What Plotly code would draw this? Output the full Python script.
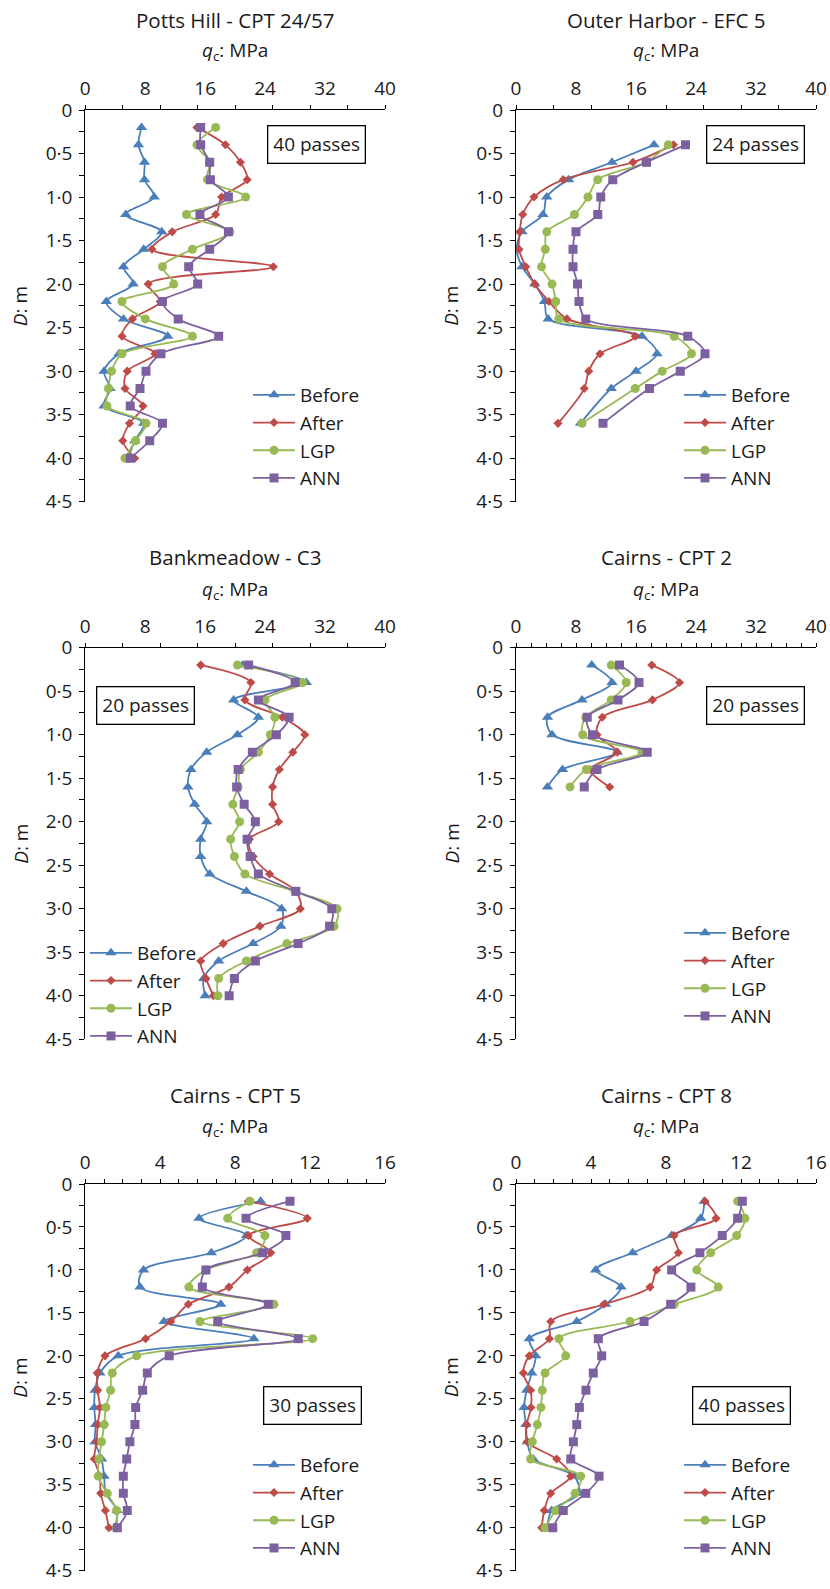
import plotly.graph_objects as go

# ---------------- data ----------------
depth_20 = [0.2, 0.4, 0.6, 0.8, 1.0, 1.2, 1.4, 1.6, 1.8, 2.0,
            2.2, 2.4, 2.6, 2.8, 3.0, 3.2, 3.4, 3.6, 3.8, 4.0]
depth_oh = [0.4, 0.6, 0.8, 1.0, 1.2, 1.4, 1.6, 1.8, 2.0, 2.2,
            2.4, 2.6, 2.8, 3.0, 3.2, 3.6]
depth_c2 = [0.2, 0.4, 0.6, 0.8, 1.0, 1.2, 1.4, 1.6]

series_names = ["Before", "After", "LGP", "ANN"]

# Potts Hill - CPT 24/57
ph_before = [7.5, 7.1, 7.9, 7.9, 9.2, 5.4, 10.2, 7.8, 5.1, 6.4, 2.8, 5.1, 11.0, 4.5, 2.5, 3.3, 2.5, 7.8, 6.6, 5.7]
ph_after = [14.9, 18.7, 20.7, 21.6, 18.2, 17.4, 11.6, 8.9, 25.1, 8.4, 10.0, 6.3, 4.9, 9.3, 5.6, 5.3, 7.7, 5.9, 5.0, 6.6]
ph_lgp = [17.4, 14.9, 16.6, 16.3, 21.4, 13.5, 19.3, 14.3, 10.3, 11.8, 4.9, 8.0, 14.3, 4.9, 3.5, 3.1, 2.9, 8.1, 6.7, 5.3]
ph_ann = [15.4, 15.4, 16.6, 16.7, 19.1, 15.3, 19.1, 16.6, 13.8, 15.0, 10.3, 12.4, 17.8, 10.1, 8.1, 7.3, 6.0, 10.3, 8.6, 6.0]

# Outer Harbor - EFC 5
oh_before = [18.4, 12.8, 7.0, 4.1, 3.6, 0.8, 0.1, 0.8, 2.5, 3.8, 4.3, 16.8, 18.8, 16.0, 12.7, 8.6]
oh_after = [21.0, 15.6, 6.3, 2.4, 0.9, 0.5, 0.4, 1.3, 2.5, 4.4, 6.8, 15.9, 11.2, 9.7, 9.1, 5.6]
oh_lgp = [20.3, 17.3, 10.9, 9.6, 7.8, 4.1, 3.9, 3.4, 4.8, 5.3, 5.7, 21.1, 23.4, 19.5, 15.9, 8.8]
oh_ann = [22.6, 17.4, 12.9, 11.3, 10.9, 8.0, 7.6, 7.6, 8.2, 8.4, 9.3, 22.9, 25.2, 21.9, 17.8, 11.6]

# Bankmeadow - C3
bm_before = [21.0, 29.5, 19.8, 23.1, 20.3, 16.2, 14.1, 13.7, 14.6, 16.2, 15.4, 15.4, 16.6, 21.5, 26.2, 26.1, 22.4, 17.8, 15.8, 16.0]
bm_after = [15.4, 22.1, 21.3, 26.3, 29.3, 27.7, 25.9, 25.0, 25.0, 25.8, 21.9, 22.4, 24.6, 28.1, 28.7, 23.3, 18.4, 15.4, 16.1, 17.1]
bm_lgp = [20.3, 29.0, 24.0, 25.3, 24.7, 23.1, 20.7, 20.4, 19.7, 20.6, 19.4, 19.9, 21.3, 28.0, 33.6, 33.2, 26.9, 21.5, 17.8, 17.7]
bm_ann = [21.8, 28.0, 23.1, 27.2, 25.5, 22.3, 20.4, 20.2, 21.2, 22.7, 21.6, 22.0, 23.1, 28.1, 32.9, 32.6, 28.4, 22.7, 19.9, 19.2]

# Cairns - CPT 2
c2_before = [10.1, 12.8, 8.8, 4.2, 4.8, 13.5, 6.2, 4.2]
c2_after = [18.1, 21.8, 18.2, 11.5, 10.8, 13.5, 9.9, 12.5]
c2_lgp = [12.7, 14.7, 12.7, 9.3, 8.9, 16.8, 9.4, 7.2]
c2_ann = [13.8, 16.4, 13.6, 9.5, 10.2, 17.5, 10.8, 9.1]

# Cairns - CPT 5
c5_before = [9.36, 6.07, 8.61, 6.73, 3.11, 2.92, 7.23, 4.2, 9.0, 1.76, 0.78, 0.52, 0.48, 0.55, 0.52, 0.87, 1.0, 1.1, 1.7, 1.58]
c5_after = [8.7, 11.85, 8.7, 9.9, 8.65, 7.67, 5.5, 4.57, 3.22, 1.05, 0.64, 0.66, 0.78, 0.66, 0.6, 0.48, 0.78, 0.82, 1.07, 1.26]
c5_lgp = [8.79, 7.6, 9.59, 9.15, 6.44, 5.53, 10.07, 6.12, 12.14, 2.74, 1.44, 1.35, 1.1, 1.01, 0.87, 0.73, 0.69, 1.17, 1.67, 1.67]
c5_ann = [10.93, 8.58, 10.71, 9.47, 6.44, 6.25, 9.77, 7.07, 11.37, 4.48, 3.31, 3.06, 2.69, 2.65, 2.38, 2.21, 2.03, 2.03, 2.24, 1.71]

# Cairns - CPT 8
c8_before = [10.04, 9.85, 8.3, 6.22, 4.25, 5.6, 4.78, 3.24, 0.71, 1.05, 0.84, 0.57, 0.43, 0.53, 0.6, 0.92, 3.1, 3.36, 1.9, 1.67]
c8_after = [10.08, 10.67, 8.43, 8.66, 7.5, 7.15, 4.69, 1.85, 1.78, 0.71, 0.39, 0.78, 0.8, 0.57, 0.6, 2.17, 2.92, 1.85, 1.51, 1.37]
c8_lgp = [11.82, 12.21, 11.77, 10.38, 9.64, 10.79, 8.44, 6.08, 2.29, 2.65, 1.55, 1.4, 1.33, 1.14, 0.87, 0.78, 3.45, 3.15, 2.12, 1.55]
c8_ann = [12.07, 11.82, 11.0, 9.81, 8.3, 9.33, 8.25, 6.83, 4.39, 4.57, 4.12, 3.73, 3.38, 3.24, 3.06, 2.92, 4.43, 3.72, 2.52, 1.96]

titles = ["Potts Hill - CPT 24/57", "Outer Harbor - EFC 5", "Bankmeadow - C3",
          "Cairns - CPT 2", "Cairns - CPT 5", "Cairns - CPT 8"]
pass_labels = ["40 passes", "24 passes", "20 passes", "20 passes", "30 passes", "40 passes"]

x_tick_wide = [0, 8, 16, 24, 32, 40]
x_tick_narrow = [0, 4, 8, 12, 16]
y_tick_vals = [0, 0.5, 1.0, 1.5, 2.0, 2.5, 3.0, 3.5, 4.0, 4.5]
y_tick_text = ["0", "0·5", "1·0", "1·5", "2·0", "2·5", "3·0", "3·5", "4·0", "4·5"]

# ---------------- style / layout ----------------
W, H = 830, 1589
FONT = "Open Sans"
FS = 19
FS_TITLE = 20.5
colors = ["#4A7EBB", "#BE4B48", "#98B954", "#7D60A0"]
symbols = ["triangle-up", "diamond", "circle", "square"]
msizes = [10, 7, 9, 9]

panels = [
    dict(depth=depth_20, data=[ph_before, ph_after, ph_lgp, ph_ann], xmax=40, xt=x_tick_wide, minor=5,
         col=0, row=0, box=(30.8, 0.40), leg=(248, 376)),
    dict(depth=depth_oh, data=[oh_before, oh_after, oh_lgp, oh_ann], xmax=40, xt=x_tick_wide, minor=5,
         col=1, row=0, box=(31.9, 0.40), leg=(679, 376)),
    dict(depth=depth_20, data=[bm_before, bm_after, bm_lgp, bm_ann], xmax=40, xt=x_tick_wide, minor=5,
         col=0, row=1, box=(7.97, 0.66), leg=(85, 934)),
    dict(depth=depth_c2, data=[c2_before, c2_after, c2_lgp, c2_ann], xmax=40, xt=x_tick_wide, minor=2,
         col=1, row=1, box=(31.9, 0.66), leg=(679, 914)),
    dict(depth=depth_20, data=[c5_before, c5_after, c5_lgp, c5_ann], xmax=16, xt=x_tick_narrow, minor=1,
         col=0, row=2, box=(12.13, 2.58), leg=(248, 1446)),
    dict(depth=depth_20, data=[c8_before, c8_after, c8_lgp, c8_ann], xmax=16, xt=x_tick_narrow, minor=1,
         col=1, row=2, box=(12.0, 2.58), leg=(679, 1446)),
]

col_px = [(85.3, 385.0), (516.0, 816.0)]
row_px = [(110.0, 501.7), (647.7, 1039.3), (1184.0, 1570.7)]
title_px = [20, 557, 1095]
qc_px = [51, 590, 1127]

fig = go.Figure()
layout = dict(
    width=W, height=H, margin=dict(l=0, r=0, t=0, b=0, autoexpand=False),
    paper_bgcolor="white", plot_bgcolor="white",
    font=dict(family=FONT, size=FS, color="#1a1a1a"),
    annotations=[], showlegend=True,
)

for i, p in enumerate(panels):
    n = i + 1
    xa = "x" if n == 1 else f"x{n}"
    ya = "y" if n == 1 else f"y{n}"
    lg = "legend" if n == 1 else f"legend{n}"
    for k, name in enumerate(series_names):
        fig.add_trace(go.Scatter(
            x=p["data"][k], y=p["depth"], xaxis=xa, yaxis=ya,
            mode="lines+markers", name=name, legend=lg, legendgroup=f"{n}{name}",
            line=dict(color=colors[k], width=1.8, shape="spline", smoothing=0.9),
            marker=dict(symbol=symbols[k], size=msizes[k], color=colors[k]),
        ))
    x0, x1 = col_px[p["col"]]
    ytop, ybot = row_px[p["row"]]
    xd = [x0 / W, x1 / W]
    yd = [1 - ybot / H, 1 - ytop / H]
    minor_vals = [v * p["minor"] for v in range(int(p["xmax"] / p["minor"]) + 1)]
    layout[f"xaxis{n}"] = dict(
        domain=xd, anchor=ya, side="top", range=[0, p["xmax"]],
        showline=True, linecolor="black", linewidth=1.3, mirror=False,
        tickmode="array", tickvals=p["xt"], ticktext=[str(v) for v in p["xt"]],
        ticks="", ticklabelstandoff=6,
        minor=dict(tickmode="array", tickvals=minor_vals, ticks="outside", ticklen=4,
                   tickcolor="black", tickwidth=1.3, showgrid=False),
        showgrid=False, zeroline=False, fixedrange=True, automargin=False,
        tickfont=dict(family=FONT, size=FS, color="#1a1a1a"),
    )
    layout[f"yaxis{n}"] = dict(
        domain=yd, anchor=xa, range=[4.5, 0],
        showline=True, linecolor="black", linewidth=1.3,
        tickmode="array", tickvals=y_tick_vals, ticktext=y_tick_text,
        ticks="outside", ticklen=5, tickcolor="black", tickwidth=1.3, ticklabelstandoff=3,
        minor=dict(tickmode="array", tickvals=[v + 0.25 for v in y_tick_vals[:-1]],
                   ticks="outside", ticklen=5, tickcolor="black", tickwidth=1.3, showgrid=False),
        showgrid=False, zeroline=False, fixedrange=True, automargin=False,
        tickfont=dict(family=FONT, size=FS, color="#1a1a1a"),
    )
    lx, ly = p["leg"]
    layout[lg] = dict(
        x=lx / W, y=1 - ly / H, xanchor="left", yanchor="top",
        bgcolor="rgba(0,0,0,0)", borderwidth=0,
        font=dict(family=FONT, size=FS, color="#1a1a1a"),
        itemwidth=42, tracegroupgap=4, traceorder="normal",
    )
    cx = (x0 + x1) / 2
    layout["annotations"].append(dict(
        text=titles[i], xref="paper", yref="paper", x=cx / W, y=1 - title_px[p["row"]] / H,
        xanchor="center", yanchor="middle", showarrow=False,
        font=dict(family=FONT, size=FS_TITLE, color="#1a1a1a")))
    layout["annotations"].append(dict(
        text="<i>q</i><sub>c</sub>: MPa", xref="paper", yref="paper", x=cx / W,
        y=1 - qc_px[p["row"]] / H, xanchor="center", yanchor="middle", showarrow=False,
        font=dict(family=FONT, size=FS, color="#1a1a1a")))
    layout["annotations"].append(dict(
        text="<i>D</i>: m", xref="paper", yref="paper", x=(x0 - 65) / W,
        y=1 - (ytop + ybot) / 2 / H, xanchor="center", yanchor="middle", textangle=-90,
        showarrow=False, font=dict(family=FONT, size=FS, color="#1a1a1a")))
    bx, by = p["box"]
    layout["annotations"].append(dict(
        text=pass_labels[i], xref=xa, yref=ya, x=bx, y=by, xanchor="center", yanchor="middle",
        showarrow=False, bordercolor="black", borderwidth=1.3, borderpad=5, bgcolor="white",
        font=dict(family=FONT, size=FS, color="#1a1a1a")))

fig.update_layout(**layout)
fig.write_html(
    "out.html",
    config={"responsive": False, "displayModeBar": False},
    post_script="document.body.style.margin='0';document.body.style.padding='0';"
                "document.documentElement.style.overflow='hidden';",
)
